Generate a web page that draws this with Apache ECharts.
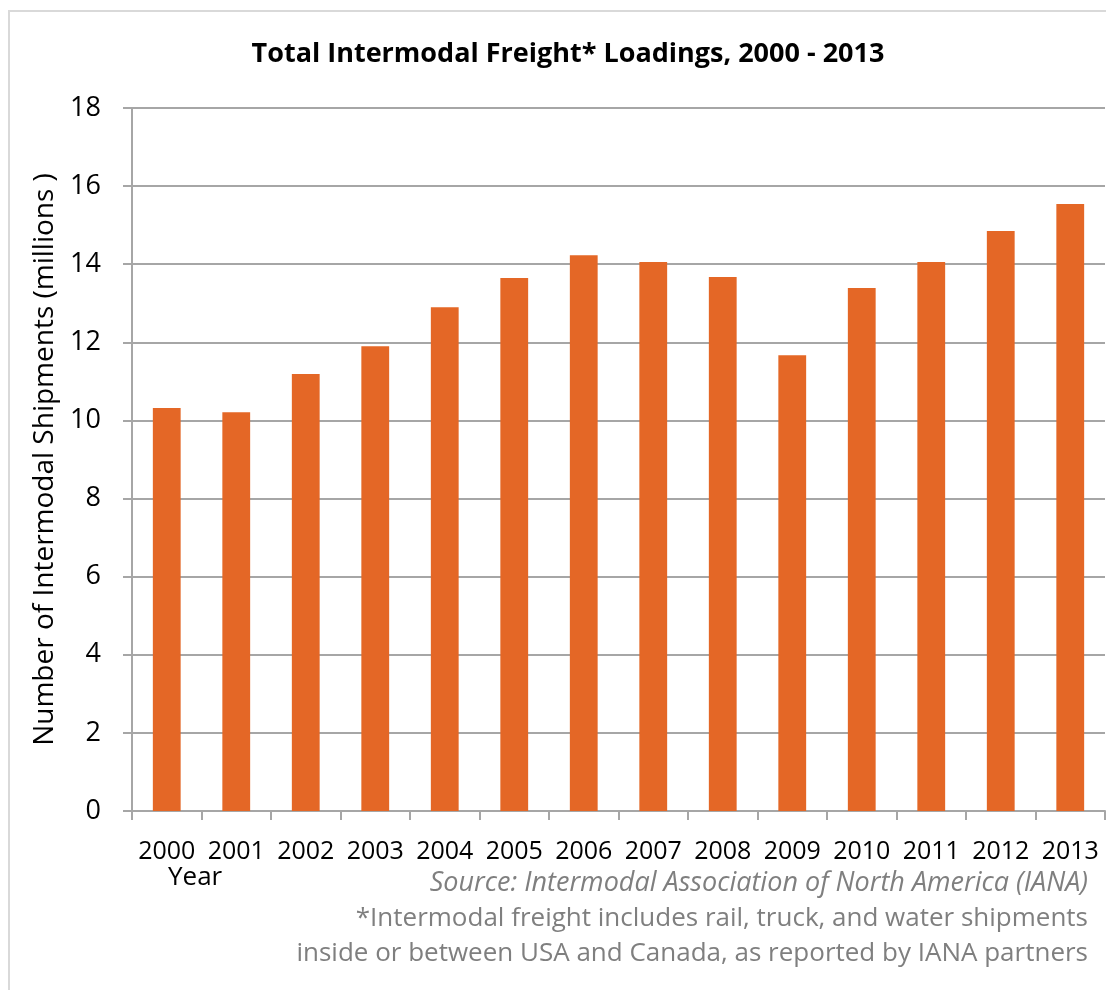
<!DOCTYPE html>
<html>
<head>
<meta charset="utf-8">
<script src="https://cdn.jsdelivr.net/npm/echarts@6/dist/echarts.min.js"></script>
<style>
  html, body { margin: 0; padding: 0; background: #fff; }
  #chart { width: 1106px; height: 990px; }
</style>
</head>
<body>
<div id="chart"></div>
<script>
// data
const years = ['2000', '2001', '2002', '2003', '2004', '2005', '2006',
  '2007', '2008', '2009', '2010', '2011', '2012', '2013']
const loadings = [10.32, 10.21, 11.19, 11.9, 12.9, 13.65, 14.23,
  14.06, 13.67, 11.67, 13.39, 14.06, 14.85, 15.54]
const footLines = [
  'Source: Intermodal Association of North America (IANA)',
  '*Intermodal freight includes rail, truck, and water shipments',
  'inside or between USA and Canada, as reported by IANA partners'
]

const font = '"Open Sans", "DejaVu Sans", sans-serif'
const chart = echarts.init(document.getElementById('chart'))

chart.setOption({
  animation: false,
  title: {
    text: 'Total Intermodal Freight* Loadings, 2000 - 2013',
    left: 563,
    textAlign: 'center',
    top: 36,
    textStyle: { fontFamily: font, fontSize: 27, fontWeight: 'bold', color: '#000' }
  },
  grid: { left: 132, right: 1, top: 108, bottom: 179 },
  xAxis: {
    type: 'category',
    data: years,
    axisLine: { lineStyle: { color: '#a6a6a6', width: 2 } },
    axisTick: { show: true, length: 9, lineStyle: { color: '#a6a6a6', width: 2 } },
    axisLabel: { interval: 0, hideOverlap: false, fontFamily: font, fontSize: 25, color: '#000', margin: 28 }
  },
  yAxis: {
    type: 'value',
    min: 0,
    max: 18,
    interval: 2,
    name: 'Number of Intermodal Shipments (millions )',
    nameLocation: 'middle',
    nameGap: 73,
    nameTextStyle: { fontFamily: font, fontSize: 28, color: '#000' },
    axisLine: { show: true, lineStyle: { color: '#a6a6a6', width: 2 } },
    axisTick: { show: true, length: 9, lineStyle: { color: '#a6a6a6', width: 2 } },
    axisLabel: { fontFamily: font, fontSize: 27, color: '#000', margin: 31 },
    splitLine: { lineStyle: { color: '#a6a6a6', width: 2 } }
  },
  series: [{
    type: 'bar',
    data: loadings,
    barWidth: '40%',
    itemStyle: { color: '#e46726' }
  }],
  graphic: [
    {
      type: 'rect',
      shape: { x: 9, y: 11, width: 1110, height: 1000 },
      style: { fill: 'none', stroke: '#d9d9d9', lineWidth: 2 },
      silent: true
    },
    {
      type: 'text',
      left: 168,
      top: 865,
      style: { text: 'Year', font: '26px ' + font, fill: '#000' }
    },
    {
      type: 'text',
      right: 18,
      top: 870,
      style: { text: footLines[0], font: 'italic 27px ' + font, fill: '#7f7f7f', textAlign: 'right' }
    },
    {
      type: 'text',
      right: 18,
      top: 906,
      style: { text: footLines[1], font: '26px ' + font, fill: '#7f7f7f', textAlign: 'right' }
    },
    {
      type: 'text',
      right: 18,
      top: 941,
      style: { text: footLines[2], font: '26px ' + font, fill: '#7f7f7f', textAlign: 'right' }
    }
  ]
})
</script>
</body>
</html>
